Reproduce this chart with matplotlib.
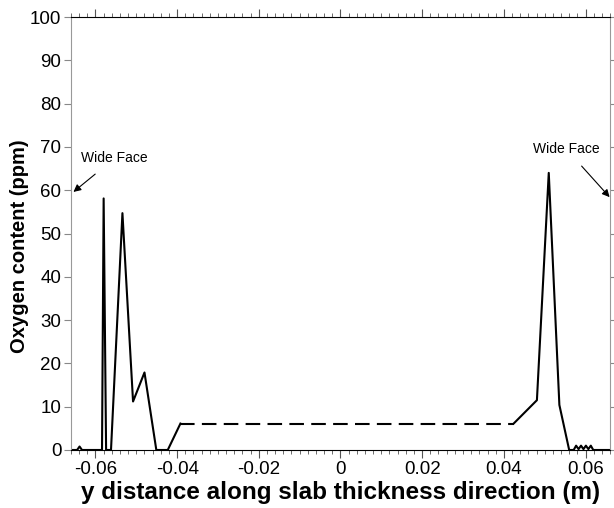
import numpy as np
import matplotlib
matplotlib.use('Agg')
import matplotlib.pyplot as plt
from matplotlib.ticker import MultipleLocator

plt.rcParams['font.family'] = ['Liberation Sans', 'DejaVu Sans']

# left wide face region (solid)
y_left = [-0.066, -0.0645, -0.0639, -0.0633, -0.0584, -0.0580, -0.0574,
          -0.0562, -0.0534, -0.0508, -0.0480, -0.0451, -0.0423, -0.0392]
o_left = [0, 0, 0.8, 0, 0, 58.1, 0,
          0, 54.7, 11.2, 17.9, 0, 0, 6.1]

# core region (dashed)
y_mid = [-0.0392, 0.0424]
o_mid = [6.1, 6.1]

# right wide face region (solid)
y_right = [0.0424, 0.0481, 0.0510, 0.0536, 0.0560, 0.0571, 0.0577, 0.0583,
           0.0589, 0.0595, 0.0601, 0.0607, 0.0613, 0.0619, 0.066]
o_right = [6.1, 11.5, 64.0, 10.4, 0, 0, 1.0, 0.2,
           1.0, 0.2, 1.0, 0.2, 1.0, 0, 0]

xticks = [-0.06, -0.04, -0.02, 0, 0.02, 0.04, 0.06]
xticklabels = ['-0.06', '-0.04', '-0.02', '0', '0.02', '0.04', '0.06']

fig = plt.figure(figsize=(6.14, 5.08), dpi=100)
ax = fig.add_axes([0.1156, 0.1142, 0.8779, 0.8523])

ax.plot(y_left, o_left, color='black', lw=1.5)
ax.plot(y_mid, o_mid, color='black', lw=1.5, ls=(0, (7, 3.5)))
ax.plot(y_right, o_right, color='black', lw=1.5)

ax.set_xlim(-0.066, 0.066)
ax.set_ylim(0, 100)
ax.xaxis.set_minor_locator(MultipleLocator(0.002))
ax.yaxis.set_major_locator(MultipleLocator(10))
ax.set_xticks(xticks)
ax.set_xticklabels(xticklabels)

ax.tick_params(axis='x', which='both', direction='out', top=True, labelsize=13.5,
               color='#555555', pad=2)
ax.tick_params(axis='x', which='major', length=6)
ax.tick_params(axis='x', which='minor', length=3)
ax.tick_params(axis='y', which='both', direction='out', right=True, labelsize=13.5,
               color='#888888', length=5, pad=2)

for side in ['left', 'right']:
    ax.spines[side].set_color('#999999')
for side in ['top', 'bottom']:
    ax.spines[side].set_color('black')

ax.set_xlabel('y distance along slab thickness direction (m)', fontsize=17.5,
              fontweight='bold', labelpad=2)
ax.set_ylabel('Oxygen content (ppm)', fontsize=14.5, fontweight='bold')
ax.yaxis.set_label_coords(-0.078, 0.47)

ax.annotate('Wide Face', xy=(-0.0654, 59.6), xytext=(-0.0553, 67.4),
            ha='center', va='center', fontsize=10,
            arrowprops=dict(arrowstyle='-|>', color='black', lw=0.8,
                            shrinkA=7, shrinkB=0, mutation_scale=11))
ax.annotate('Wide Face', xy=(0.0659, 58.4), xytext=(0.0553, 69.5),
            ha='center', va='center', fontsize=10,
            arrowprops=dict(arrowstyle='-|>', color='black', lw=0.8,
                            shrinkA=7, shrinkB=0, mutation_scale=11))

fig.savefig('out.png', dpi=100)
